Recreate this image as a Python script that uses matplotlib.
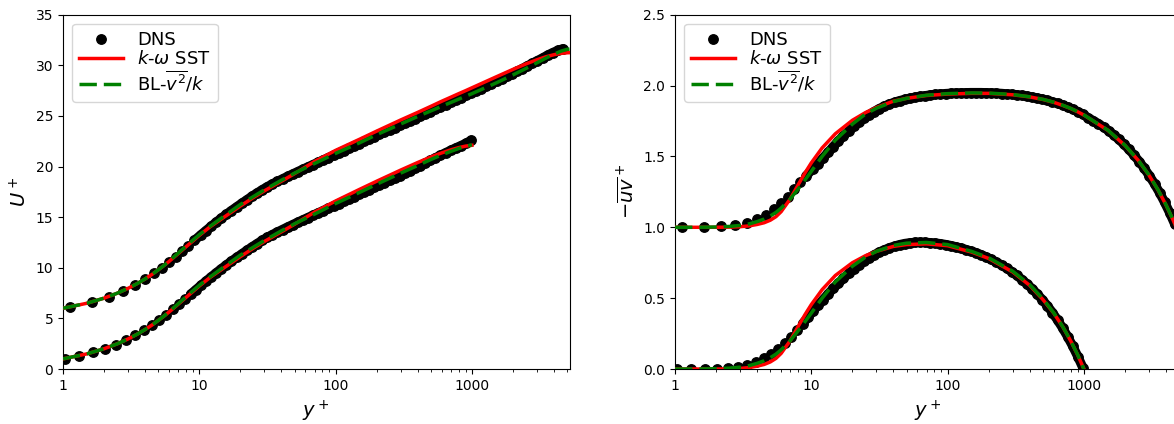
import numpy as np
import matplotlib
matplotlib.use('Agg')
import matplotlib.pyplot as plt
from matplotlib.ticker import NullFormatter

#-----------------------------------------------------
# DNS, Re_tau ~ 1000 (lower curves)
yp_dns_lo = [1.03, 1.32, 1.65, 2.02, 2.43, 2.89, 3.39, 3.93, 4.5, 5.1, 5.73, 6.4, 7.1,
             7.84, 8.62, 9.45, 10.3, 11.2, 12.2, 13.3, 14.5, 15.8, 17.2, 18.8, 20.5,
             22.3, 24.3, 26.5, 28.9, 31.5, 34.3, 37.4, 40.8, 44.4, 48.4, 52.8, 57.5,
             62.7, 68.3, 74.5, 81.2, 88.5, 96.5, 105, 115, 125, 136, 148, 162, 176,
             192, 209, 228, 249, 271, 295, 322, 351, 382, 417, 454, 495, 540, 588,
             641, 699, 762, 830, 905, 986]
u_dns_lo = [1.03, 1.32, 1.64, 2.0, 2.4, 2.85, 3.33, 3.83, 4.34, 4.86, 5.38, 5.9, 6.41,
            6.9, 7.38, 7.84, 8.27, 8.68, 9.09, 9.5, 9.9, 10.28, 10.65, 11.02, 11.37,
            11.71, 12.05, 12.38, 12.7, 13.0, 13.27, 13.53, 13.78, 14.02, 14.26, 14.5,
            14.73, 14.96, 15.19, 15.42, 15.65, 15.88, 16.11, 16.34, 16.58, 16.8, 17.03,
            17.26, 17.5, 17.72, 17.95, 18.17, 18.4, 18.63, 18.86, 19.1, 19.34, 19.58,
            19.83, 20.08, 20.34, 20.6, 20.86, 21.11, 21.36, 21.6, 21.84, 22.06, 22.3,
            22.58]
uv_dns_lo = [0.0, 0.0, 0.001, 0.002, 0.006, 0.015, 0.03, 0.05, 0.075, 0.105, 0.14, 0.18,
             0.225, 0.275, 0.32, 0.365, 0.41, 0.45, 0.49, 0.53, 0.57, 0.605, 0.64, 0.675,
             0.705, 0.735, 0.76, 0.785, 0.805, 0.825, 0.84, 0.855, 0.867, 0.877, 0.885,
             0.89, 0.893, 0.894, 0.893, 0.891, 0.888, 0.884, 0.878, 0.871, 0.862, 0.853,
             0.843, 0.832, 0.82, 0.806, 0.79, 0.773, 0.754, 0.733, 0.711, 0.687, 0.66,
             0.631, 0.6, 0.566, 0.529, 0.489, 0.445, 0.397, 0.345, 0.288, 0.226, 0.159,
             0.085, 0.006]

# DNS, Re_tau ~ 5200 (upper curves, shifted by +5 and +1)
yp_dns_hi = [1.13, 1.62, 2.18, 2.77, 3.4, 4.02, 4.63, 5.28, 5.97, 6.7, 7.5, 8.3, 9.2,
             10.2, 11.2, 12.2, 13.3, 14.5, 15.8, 17.2, 18.8, 20.5, 22.3, 24.3, 26.5,
             28.9, 31.5, 34.3, 37.4, 40.8, 44.4, 48.4, 52.8, 57.5, 62.7, 68.3, 74.5,
             81.2, 88.5, 96.5, 105, 115, 125, 136, 148, 162, 176, 192, 209, 228, 249,
             271, 295, 322, 351, 382, 417, 454, 495, 540, 588, 641, 699, 762, 830, 905,
             986, 1075, 1172, 1277, 1392, 1517, 1654, 1803, 1965, 2142, 2335, 2545,
             2774, 3024, 3296, 3592, 3916, 4268, 4652]
u_dns_hi = [6.13, 6.61, 7.16, 7.73, 8.34, 8.91, 9.45, 10.01, 10.57, 11.1, 11.68, 12.18,
            12.7, 13.22, 13.68, 14.09, 14.5, 14.9, 15.28, 15.65, 16.02, 16.37, 16.71,
            17.05, 17.38, 17.7, 18.0, 18.27, 18.53, 18.78, 19.02, 19.26, 19.5, 19.73,
            19.96, 20.19, 20.42, 20.65, 20.88, 21.11, 21.34, 21.58, 21.8, 22.03, 22.26,
            22.5, 22.72, 22.95, 23.17, 23.4, 23.63, 23.85, 24.07, 24.3, 24.52, 24.74,
            24.97, 25.19, 25.42, 25.65, 25.87, 26.1, 26.33, 26.56, 26.79, 27.02, 27.25,
            27.48, 27.71, 27.94, 28.17, 28.41, 28.65, 28.9, 29.15, 29.41, 29.67, 29.93,
            30.2, 30.46, 30.72, 31.0, 31.25, 31.47, 31.63]
uv_dns_hi = [1.0, 1.001, 1.006, 1.015, 1.033, 1.055, 1.09, 1.128, 1.17, 1.217, 1.268,
             1.318, 1.365, 1.41, 1.45, 1.49, 1.53, 1.57, 1.61, 1.645, 1.68, 1.712, 1.742,
             1.77, 1.795, 1.817, 1.837, 1.854, 1.869, 1.882, 1.893, 1.902, 1.91, 1.917,
             1.923, 1.928, 1.933, 1.937, 1.94, 1.943, 1.945, 1.947, 1.948, 1.949, 1.95,
             1.95, 1.95, 1.949, 1.948, 1.946, 1.944, 1.941, 1.938, 1.934, 1.93, 1.925,
             1.919, 1.912, 1.904, 1.895, 1.885, 1.874, 1.861, 1.847, 1.832, 1.815, 1.796,
             1.772, 1.752, 1.731, 1.707, 1.681, 1.652, 1.62, 1.586, 1.549, 1.508, 1.464,
             1.416, 1.363, 1.306, 1.244, 1.175, 1.101, 1.02]

#-----------------------------------------------------
# RANS models
yp_mod_lo = [1, 1.5, 2, 2.5, 3, 3.5, 4, 4.5, 5, 5.5, 6, 7, 8, 9, 10, 12, 15, 20, 25, 30,
             40, 50, 70, 100, 150, 200, 300, 400, 500, 600, 700, 800, 900, 1000]
yp_mod_hi = [1, 1.5, 2, 2.5, 3, 3.5, 4, 4.5, 5, 5.5, 6, 7, 8, 9, 10, 12, 15, 20, 25, 30,
             40, 50, 70, 100, 150, 200, 300, 400, 500, 600, 700, 800, 900, 1000,
             1500, 2000, 2500, 3000, 3500, 4000, 4500, 5000, 5200]

u_sst_lo = [1.0, 1.5, 2.0, 2.49, 2.97, 3.44, 3.9, 4.35, 4.8, 5.22, 5.63, 6.4, 7.08, 7.67,
            8.2, 9.05, 9.95, 11.1, 11.95, 12.6, 13.55, 14.3, 15.5, 16.6, 17.75, 18.55,
            19.65, 20.4, 20.95, 21.35, 21.65, 21.87, 22.02, 22.1]
u_bl_lo = [1.0, 1.5, 2.0, 2.49, 2.97, 3.44, 3.9, 4.35, 4.8, 5.23, 5.65, 6.45, 7.15, 7.75,
           8.27, 9.1, 10.05, 11.25, 12.05, 12.7, 13.65, 14.35, 15.3, 16.35, 17.45, 18.25,
           19.35, 20.1, 20.7, 21.15, 21.5, 21.78, 22.0, 22.15]
u_sst_hi = [6.0, 6.5, 7.0, 7.49, 7.97, 8.44, 8.9, 9.35, 9.8, 10.22, 10.63, 11.4, 12.08,
            12.67, 13.2, 14.05, 14.95, 16.1, 16.95, 17.6, 18.55, 19.3, 20.5, 21.6, 22.7,
            23.5, 24.6, 25.35, 25.95, 26.45, 26.85, 27.2, 27.5, 27.78, 28.85, 29.6, 30.15,
            30.55, 30.85, 31.05, 31.18, 31.24, 31.25]
u_bl_hi = [6.0, 6.5, 7.0, 7.49, 7.97, 8.44, 8.9, 9.35, 9.8, 10.23, 10.65, 11.45, 12.15,
           12.75, 13.27, 14.1, 15.05, 16.25, 17.05, 17.7, 18.65, 19.35, 20.3, 21.3, 22.35,
           23.15, 24.2, 24.95, 25.5, 25.95, 26.33, 26.66, 26.95, 27.2, 28.25, 29.05, 29.7,
           30.25, 30.72, 31.1, 31.4, 31.58, 31.6]

uv_sst_lo = [0.0, 0.0, 0.0, 0.001, 0.004, 0.01, 0.02, 0.032, 0.05, 0.075, 0.11, 0.2, 0.3,
             0.385, 0.455, 0.56, 0.66, 0.75, 0.8, 0.83, 0.865, 0.878, 0.883, 0.87, 0.825,
             0.78, 0.685, 0.59, 0.49, 0.395, 0.297, 0.198, 0.099, 0.0]
uv_bl_lo = [0.0, 0.0, 0.002, 0.006, 0.013, 0.024, 0.04, 0.058, 0.08, 0.105, 0.135, 0.2,
            0.27, 0.335, 0.395, 0.5, 0.615, 0.725, 0.79, 0.83, 0.872, 0.888, 0.893, 0.878,
            0.83, 0.785, 0.69, 0.595, 0.495, 0.397, 0.298, 0.199, 0.1, 0.0]
uv_sst_hi = [1.0, 1.0, 1.0, 1.001, 1.004, 1.01, 1.02, 1.032, 1.05, 1.075, 1.11, 1.2, 1.3,
             1.385, 1.455, 1.56, 1.66, 1.755, 1.81, 1.845, 1.89, 1.91, 1.93, 1.94, 1.945,
             1.945, 1.935, 1.92, 1.902, 1.882, 1.86, 1.838, 1.815, 1.792, 1.684, 1.578,
             1.473, 1.368, 1.263, 1.158, 1.053, 0.95, 0.91]
uv_bl_hi = [1.0, 1.0, 1.002, 1.006, 1.013, 1.024, 1.04, 1.058, 1.08, 1.105, 1.135, 1.2,
            1.27, 1.335, 1.395, 1.5, 1.615, 1.728, 1.8, 1.84, 1.887, 1.91, 1.932, 1.943,
            1.948, 1.947, 1.937, 1.921, 1.903, 1.883, 1.861, 1.839, 1.816, 1.793, 1.685,
            1.579, 1.474, 1.369, 1.264, 1.159, 1.054, 0.95, 0.91]

X_TICKS = [1, 10, 100, 1000]
X_TICK_LABELS = ['1', '10', '100', '1000']

MS = 6.8          # DNS marker size (pt)
DENSE_FROM = 8.5  # y+ above which the DNS points merge into a band


def draw(ax, dns, sst, bl):
  for yp, v in dns:
    ax.plot(yp, v, 'o', color='black', ms=MS, zorder=2)
    # the DNS points are so close here that they overlap into a solid band
    k = next(i for i, y in enumerate(yp) if y >= DENSE_FROM)
    ax.plot(yp[k:], v[k:], '-', color='black', lw=MS, solid_capstyle='round',
            solid_joinstyle='round', zorder=2)
  for yp, v in sst:
    ax.plot(yp, v, '-', color='red', lw=2.5, zorder=3)
  for yp, v in bl:
    ax.plot(yp, v, '--', color='green', lw=2.5, dashes=(5, 2), zorder=4)

  ax.set_xscale('log')
  ax.set_xlim(1, 5200)
  ax.set_xticks(X_TICKS)
  ax.set_xticklabels(X_TICK_LABELS)
  ax.xaxis.set_minor_formatter(NullFormatter())
  ax.tick_params(labelsize=10)
  ax.set_xlabel(r'$y^+$', fontsize=14)

  ax.plot([], [], 'o', color='black', ms=MS, label='DNS')
  ax.plot([], [], '-', color='red', lw=2.5, label=r'$k$-$\omega$ SST')
  ax.plot([], [], '--', color='green', lw=2.5, dashes=(5, 2), label=r'BL-$\overline{v^2}/k$')
  ax.legend(loc='upper left', fontsize=13, handlelength=2.4, labelspacing=0.05)


fig = plt.figure(figsize=(11.74, 4.24), dpi=100)
ax1 = fig.add_axes([0.0537, 0.1297, 0.4314, 0.8356])
ax2 = fig.add_axes([0.575, 0.1297, 0.4314, 0.8356])

draw(ax1,
     [(yp_dns_lo, u_dns_lo), (yp_dns_hi, u_dns_hi)],
     [(yp_mod_lo, u_sst_lo), (yp_mod_hi, u_sst_hi)],
     [(yp_mod_lo, u_bl_lo), (yp_mod_hi, u_bl_hi)])
ax1.set_ylim(0, 35)
ax1.set_yticks([0, 5, 10, 15, 20, 25, 30, 35])
ax1.set_ylabel(r'$U^+$', fontsize=14)

draw(ax2,
     [(yp_dns_lo, uv_dns_lo), (yp_dns_hi, uv_dns_hi)],
     [(yp_mod_lo, uv_sst_lo), (yp_mod_hi, uv_sst_hi)],
     [(yp_mod_lo, uv_bl_lo), (yp_mod_hi, uv_bl_hi)])
ax2.set_ylim(0, 2.5)
ax2.set_yticks([0.0, 0.5, 1.0, 1.5, 2.0, 2.5])
ax2.set_yticklabels(['0.0', '0.5', '1.0', '1.5', '2.0', '2.5'])
ax2.set_ylabel(r'$-\overline{uv}^+$', fontsize=14)

fig.savefig('out.png', dpi=100)
